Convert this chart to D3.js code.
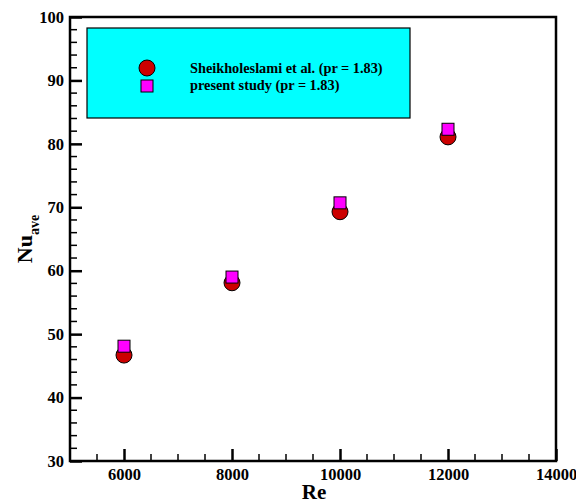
<!DOCTYPE html>
<html><head><meta charset="utf-8">
<script src="https://cdn.jsdelivr.net/npm/d3@7"></script>
<style>body{margin:0;background:#fff}svg{display:block}</style>
</head><body><svg id="c" width="576" height="504"></svg>
<script>
const reValues = [6000, 8000, 10000, 12000];
const nuSheikh = [46.7, 58.1, 69.3, 81.1];
const nuPresent = [48.1, 59.0, 70.7, 82.3];
const seriesNames = ["Sheikholeslami et al. (pr = 1.83)", "present study (pr = 1.83)"];
const xTicks = [6000, 8000, 10000, 12000, 14000];
const yTicks = [30, 40, 50, 60, 70, 80, 90, 100];

const FONT = "'Liberation Serif','Times New Roman',Times,serif";
const svg = d3.select("#c");
const L = 70, R = 556, T = 17, B = 461;
const x = d3.scaleLinear().domain([5000, 14000]).range([L, R]);
const y = d3.scaleLinear().domain([30, 100]).range([B, T]);

// frame
svg.append("path").attr("d", `M${L},${B}H${R}V${T}H${L}Z`).attr("fill","none").attr("stroke","#000").attr("stroke-width",2.5);

// x axis ticks
const xMinor = d3.range(5500, 14000, 500).filter(v => v % 2000 !== 0);
svg.append("g").selectAll("line").data(xMinor).join("line")
  .attr("x1", d=>x(d)).attr("x2", d=>x(d)).attr("y1", B).attr("y2", B-7).attr("stroke","#000").attr("stroke-width",1.5);
const xa = d3.axisBottom(x).tickValues(xTicks).tickSizeInner(-12).tickSizeOuter(0).tickPadding(7).tickFormat(d3.format("d"));
const gx = svg.append("g").attr("transform",`translate(0,${B})`).call(xa);
gx.select(".domain").remove();
gx.selectAll("line").attr("stroke-width",2.5);

// y axis
const yMinor = d3.range(32, 100, 2).filter(v => v % 10 !== 0);
svg.append("g").selectAll("line").data(yMinor).join("line")
  .attr("x1", L).attr("x2", L+7).attr("y1", d=>y(d)).attr("y2", d=>y(d)).attr("stroke","#000").attr("stroke-width",1.5);
const ya = d3.axisLeft(y).tickValues(yTicks).tickSizeInner(-12).tickSizeOuter(0).tickPadding(6);
const gy = svg.append("g").attr("transform",`translate(${L},0)`).call(ya);
gy.select(".domain").remove();
gy.selectAll("line").attr("stroke-width",2.5);

[gx, gy].forEach(g => {
  g.attr("font-family", FONT).attr("font-size", 16.5).attr("font-weight", "bold");
  g.selectAll("text").attr("fill","#000").attr("font-family", FONT).attr("font-weight","bold").attr("font-size",16.5);
});

// axis titles
svg.append("text").attr("x", (L+R)/2 + 1).attr("y", 499).attr("text-anchor","middle")
  .attr("font-family", FONT).attr("font-weight","bold").attr("font-size",21).text("Re");
const yl = svg.append("text").attr("transform",`translate(32,${(T+B)/2}) rotate(-90)`).attr("text-anchor","middle")
  .attr("font-family", FONT).attr("font-weight","bold").attr("font-size",22);
yl.append("tspan").text("Nu");
yl.append("tspan").attr("font-size",14).attr("dy",7).text("ave");

// data
svg.append("g").selectAll("circle").data(reValues).join("circle")
  .attr("cx", d=>x(d)).attr("cy", (d,i)=>y(nuSheikh[i])).attr("r",8)
  .attr("fill","#cc0000").attr("stroke","#000").attr("stroke-width",1);
svg.append("g").selectAll("rect").data(reValues).join("rect")
  .attr("x", d=>x(d)-6).attr("y", (d,i)=>y(nuPresent[i])-6).attr("width",12).attr("height",12)
  .attr("fill","#ff00ff").attr("stroke","#000").attr("stroke-width",1);

// legend
const lg = svg.append("g");
lg.append("rect").attr("x",87).attr("y",28).attr("width",323).attr("height",90).attr("fill","#00ffff").attr("stroke","#000").attr("stroke-width",1.2);
lg.append("circle").attr("cx",147).attr("cy",68).attr("r",8).attr("fill","#cc0000").attr("stroke","#000");
lg.append("rect").attr("x",141).attr("y",80).attr("width",12).attr("height",12).attr("fill","#ff00ff").attr("stroke","#000");
lg.selectAll("text.l").data(seriesNames).join("text").attr("class","l")
  .attr("x",190).attr("y",(d,i)=>73+i*17).attr("font-family", FONT).attr("font-weight","bold").attr("font-size",14.3).text(d=>d);
</script></body></html>
